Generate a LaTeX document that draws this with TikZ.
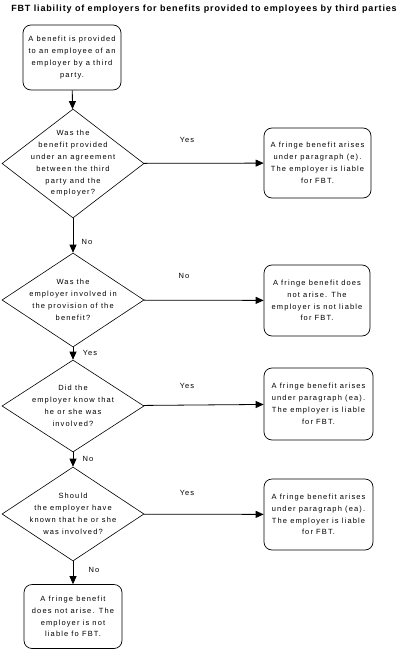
\documentclass[tikz,border=0pt]{standalone}
\usepackage{fontspec}
\setmainfont{Liberation Sans}
\usetikzlibrary{shapes.geometric,arrows.meta}
\tikzset{
  box/.style={draw, rounded corners=8pt, inner sep=0pt, line width=0.7pt},
  dia/.style={draw, diamond, inner sep=0pt, minimum width=142pt, line width=0.6pt},
  txt/.style={align=center, inner sep=0pt, font=\fontsize{7.5}{11.8}\selectfont\addfontfeatures{LetterSpace=15}},
  lbl/.style={inner sep=0pt, font=\fontsize{7.5}{9}\selectfont\addfontfeatures{LetterSpace=15}},
  arr/.style={-{Triangle[length=8pt,width=7pt]}, line width=0.8pt},
}
\begin{document}
\begin{tikzpicture}[x=1pt,y=-1pt]
\useasboundingbox (0,0) rectangle (407,650);
\node[inner sep=0pt, font=\fontsize{9}{11}\selectfont\bfseries\addfontfeatures{LetterSpace=9.5}] (title) at (204,9) {FBT liability of employers for benefits provided to employees by third parties};

\node[box, minimum width=98pt, minimum height=65pt] (b1) at (72,57.5) {};
\node[txt] at (b1) {A benefit is provided\\to an employee of an\\employer by a third\\party.};

\node[dia, minimum height=109pt] (d1) at (73,163.5) {};
\node[txt] at (d1) {Was the\\benefit provided\\under an agreement\\between the third\\party and the\\employer?};

\node[box, minimum width=107pt, minimum height=70pt] (be) at (317.5,163) {};
\node[txt] at (be) {A fringe benefit arises\\under paragraph (e).\\The employer is liable\\for FBT.};

\node[dia, minimum height=94pt] (d2) at (73,300) {};
\node[txt] at (d2) {Was the\\employer involved in\\the provision of the\\benefit?};

\node[box, minimum width=106pt, minimum height=71pt] (b2) at (317,300.5) {};
\node[txt] at (b2) {A fringe benefit does\\not arise. The\\employer is not liable\\for FBT.};

\node[dia, minimum height=92pt] (d3) at (73,406) {};
\node[txt] at (d3) {Did the\\employer know that\\he or she was\\involved?};

\node[box, minimum width=109pt, minimum height=72pt] (b3) at (318.5,404) {};
\node[txt] at (b3) {A fringe benefit arises\\under paragraph (ea).\\The employer is liable\\for FBT.};

\node[dia, minimum height=94pt] (d4) at (73,514) {};
\node[txt] at (d4) {Should\\the employer have\\known that he or she\\was involved?};

\node[box, minimum width=109pt, minimum height=71pt] (b4) at (318.5,514.5) {};
\node[txt] at (b4) {A fringe benefit arises\\under paragraph (ea).\\The employer is liable\\for FBT.};

\node[box, minimum width=98pt, minimum height=64pt] (b5) at (73,616.5) {};
\node[txt] at (b5) {A fringe benefit\\does not arise. The\\employer is not\\liable fo FBT.};

\draw[arr] (b1) -- (d1);
\draw[arr] (d1) -- (be);
\draw[arr] (d1) -- (d2);
\draw[arr] (d2) -- (b2);
\draw[arr] (d2) -- (d3);
\draw[arr] (d3) -- (b3);
\draw[arr] (d3) -- (d4);
\draw[arr] (d4) -- (b4);
\draw[arr] (d4) -- (b5);

\node[lbl] (l1) at (187,140) {Yes};
\node[lbl] (l2) at (87,242) {No};
\node[lbl] (l3) at (184,276) {No};
\node[lbl] (l4) at (90,353) {Yes};
\node[lbl] (l5) at (187,386) {Yes};
\node[lbl] (l6) at (88,459) {No};
\node[lbl] (l7) at (187,493) {Yes};
\node[lbl] (l8) at (94,570) {No};
\end{tikzpicture}
\end{document}
